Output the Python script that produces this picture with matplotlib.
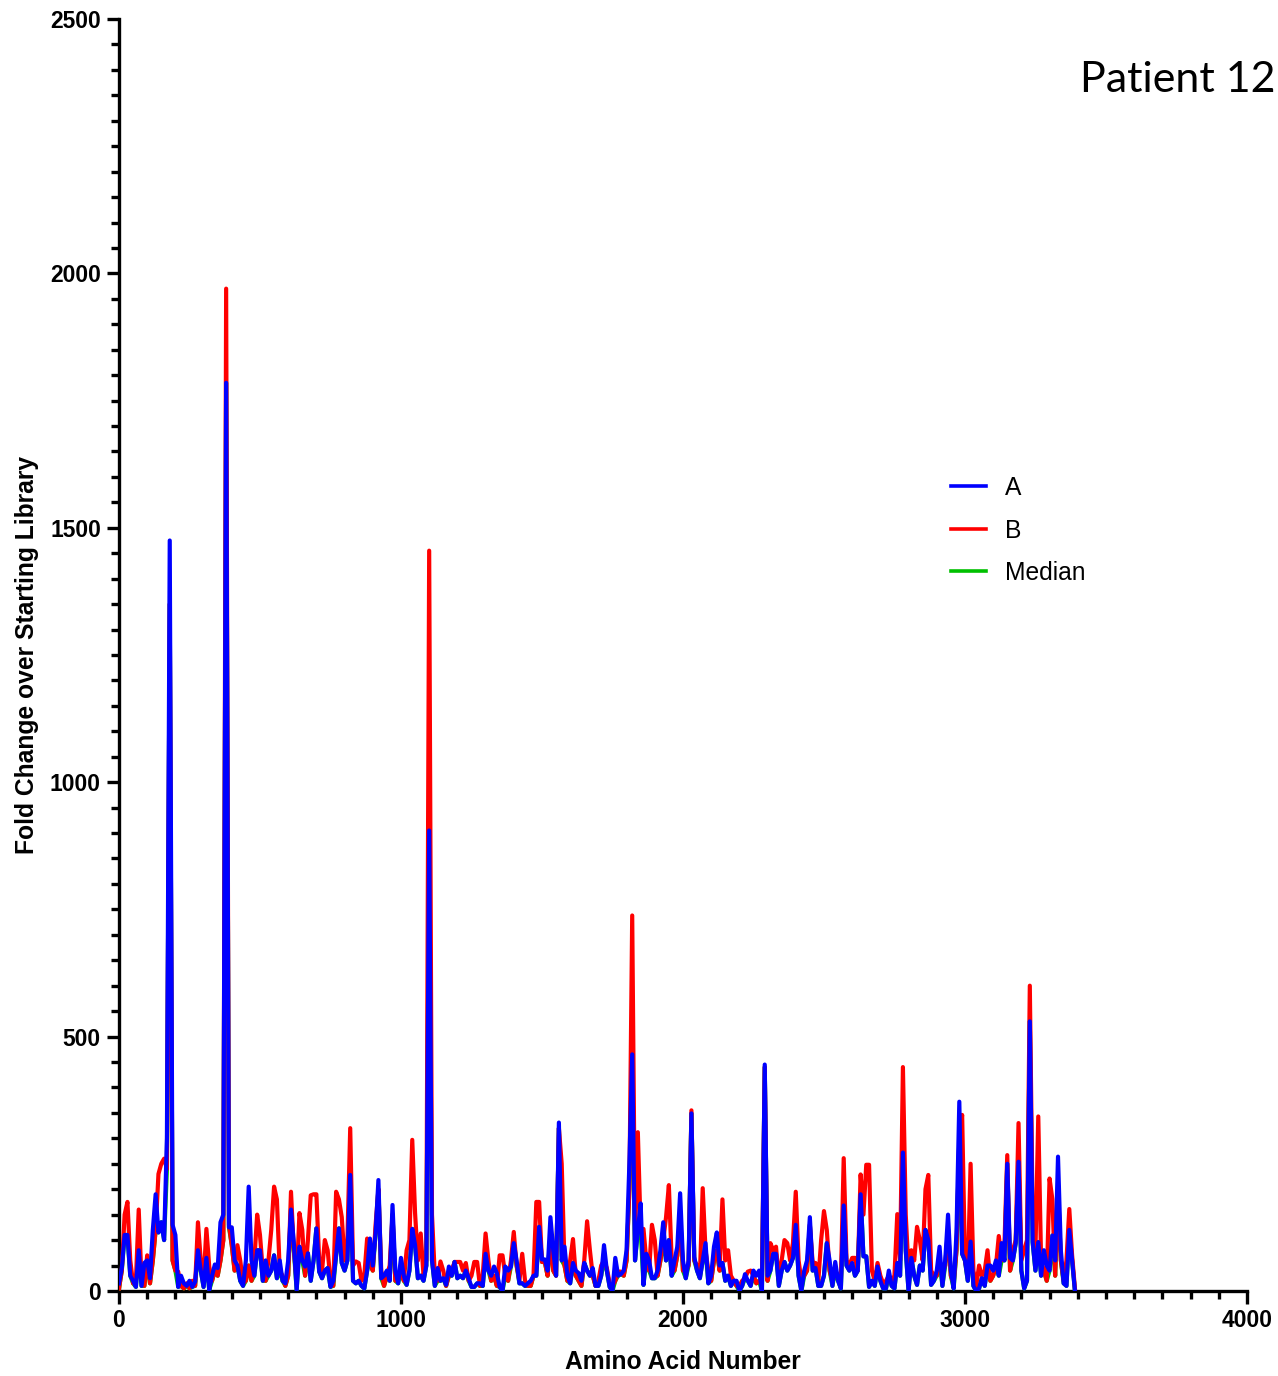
import numpy as np
import matplotlib
matplotlib.use("Agg")
import matplotlib.pyplot as plt
from matplotlib.ticker import MultipleLocator

plt.rcParams['font.family'] = ['Liberation Sans', 'DejaVu Sans']

# amino acid positions, one value every 10 residues
positions = np.arange(0, 3400, 10)

rep_a = [
    15, 45, 110, 110, 30, 20, 8, 80, 10, 55,
    60, 25, 120, 190, 115, 135, 100, 300, 1475, 130,
    110, 8, 30, 15, 10, 20, 8, 18, 80, 40,
    8, 65, 2, 30, 52, 45, 135, 150, 1785, 125,
    125, 60, 50, 20, 10, 60, 205, 60, 30, 80,
    80, 20, 60, 30, 40, 70, 25, 60, 20, 15,
    60, 160, 94, 2, 87, 60, 48, 74, 20, 60,
    123, 38, 25, 40, 45, 8, 20, 70, 123, 55,
    40, 60, 228, 20, 15, 20, 10, 5, 40, 103,
    50, 113, 218, 25, 30, 40, 20, 169, 40, 15,
    65, 30, 12, 40, 122, 90, 25, 30, 20, 50,
    905, 60, 10, 45, 20, 25, 12, 48, 30, 57,
    25, 30, 25, 40, 25, 8, 8, 15, 15, 10,
    73, 40, 30, 48, 35, 8, 0, 48, 40, 48,
    94, 60, 15, 15, 10, 15, 20, 30, 30, 126,
    62, 62, 40, 145, 80, 30, 331, 60, 87, 30,
    15, 55, 40, 35, 20, 55, 40, 30, 45, 10,
    10, 30, 90, 40, 8, 0, 65, 30, 33, 40,
    80, 251, 465, 60, 120, 172, 12, 73, 60, 25,
    25, 40, 80, 135, 60, 100, 30, 60, 87, 192,
    60, 25, 60, 349, 67, 40, 25, 60, 94, 15,
    30, 87, 115, 50, 55, 20, 30, 10, 20, 20,
    0, 10, 33, 20, 10, 40, 30, 40, 0, 445,
    30, 40, 73, 73, 10, 40, 57, 40, 50, 65,
    130, 30, 0, 40, 60, 145, 40, 45, 10, 10,
    30, 94, 60, 10, 57, 20, 5, 168, 50, 40,
    55, 30, 40, 190, 68, 68, 8, 20, 10, 48,
    20, 5, 5, 40, 10, 5, 55, 30, 272, 80,
    0, 65, 30, 12, 50, 40, 120, 100, 12, 20,
    40, 87, 10, 60, 150, 40, 5, 115, 372, 73,
    60, 20, 97, 10, 0, 5, 25, 10, 50, 50,
    40, 60, 30, 94, 60, 250, 65, 60, 94, 254,
    40, 5, 20, 530, 96, 40, 96, 30, 80, 50,
    40, 109, 60, 264, 80, 15, 10, 120, 60, 0,
]

rep_b = [
    5, 40, 150, 175, 60, 15, 20, 160, 20, 10,
    70, 15, 60, 120, 230, 250, 260, 240, 1350, 60,
    40, 38, 10, 5, 15, 5, 20, 10, 135, 60,
    20, 122, 48, 20, 40, 30, 60, 100, 1970, 130,
    90, 40, 90, 60, 15, 20, 50, 20, 60, 150,
    110, 40, 20, 60, 120, 205, 180, 40, 30, 10,
    30, 195, 80, 20, 153, 120, 30, 100, 188, 190,
    190, 60, 40, 100, 80, 20, 10, 195, 180, 145,
    60, 100, 320, 50, 58, 55, 20, 30, 103, 60,
    40, 130, 200, 40, 10, 30, 50, 150, 20, 25,
    40, 20, 80, 100, 297, 153, 60, 113, 30, 60,
    1455, 150, 30, 20, 58, 40, 10, 30, 40, 57,
    57, 57, 40, 55, 20, 30, 57, 57, 10, 30,
    113, 60, 20, 30, 10, 70, 70, 30, 20, 60,
    116, 50, 20, 73, 20, 10, 10, 30, 175, 175,
    57, 57, 30, 110, 40, 30, 320, 250, 50, 20,
    60, 102, 30, 20, 10, 60, 137, 80, 30, 10,
    20, 50, 60, 45, 15, 10, 20, 38, 38, 30,
    60, 200, 738, 100, 312, 120, 122, 60, 40, 130,
    100, 30, 60, 100, 145, 208, 60, 40, 70, 150,
    40, 40, 50, 355, 60, 50, 30, 202, 80, 40,
    20, 60, 80, 40, 180, 60, 80, 30, 20, 10,
    10, 20, 25, 38, 40, 30, 15, 20, 20, 440,
    20, 94, 80, 87, 20, 60, 100, 94, 60, 94,
    195, 60, 20, 30, 40, 130, 55, 55, 20, 100,
    157, 120, 40, 20, 40, 30, 20, 261, 60, 50,
    65, 65, 40, 229, 150, 248, 248, 40, 20, 55,
    30, 15, 20, 30, 20, 30, 151, 60, 440, 150,
    40, 80, 60, 126, 100, 60, 200, 228, 40, 30,
    30, 60, 40, 50, 120, 30, 15, 80, 300, 346,
    60, 30, 250, 40, 10, 50, 30, 40, 80, 20,
    30, 50, 108, 60, 90, 267, 40, 80, 100, 330,
    60, 80, 100, 600, 150, 80, 343, 60, 40, 20,
    221, 180, 30, 200, 60, 20, 60, 161, 70, 5,
]

median = [
    5, 40, 110, 110, 30, 15, 8, 80, 10, 10,
    60, 15, 60, 120, 115, 135, 100, 240, 1350, 60,
    40, 8, 10, 5, 10, 5, 8, 10, 80, 40,
    8, 65, 2, 20, 40, 30, 60, 100, 1785, 125,
    90, 40, 50, 20, 10, 20, 50, 20, 30, 80,
    80, 20, 20, 30, 40, 70, 25, 40, 20, 10,
    30, 160, 80, 2, 87, 60, 30, 74, 20, 60,
    123, 38, 25, 40, 45, 8, 10, 70, 123, 55,
    40, 60, 228, 20, 15, 20, 10, 5, 40, 60,
    40, 113, 200, 25, 10, 30, 20, 150, 20, 15,
    40, 20, 12, 40, 122, 90, 25, 30, 20, 50,
    905, 60, 10, 20, 20, 25, 10, 30, 30, 57,
    25, 30, 25, 40, 20, 8, 8, 15, 10, 10,
    73, 40, 20, 30, 10, 8, 0, 30, 20, 48,
    94, 50, 15, 15, 10, 10, 10, 30, 30, 126,
    57, 57, 30, 110, 40, 30, 320, 60, 50, 20,
    15, 55, 30, 20, 10, 55, 40, 30, 30, 10,
    10, 30, 60, 40, 8, 0, 20, 30, 33, 30,
    60, 200, 465, 60, 120, 120, 12, 60, 40, 25,
    25, 30, 60, 100, 60, 100, 30, 40, 70, 150,
    40, 25, 50, 349, 60, 40, 25, 60, 80, 15,
    20, 60, 80, 40, 55, 20, 30, 10, 20, 10,
    0, 10, 25, 20, 10, 30, 15, 20, 0, 440,
    20, 40, 73, 73, 10, 40, 57, 40, 50, 65,
    130, 30, 0, 30, 40, 130, 40, 45, 10, 10,
    30, 94, 40, 10, 40, 20, 5, 168, 50, 40,
    55, 30, 40, 190, 68, 68, 8, 20, 10, 48,
    20, 5, 5, 30, 10, 5, 55, 30, 272, 80,
    0, 65, 30, 12, 50, 40, 120, 100, 12, 20,
    30, 60, 10, 50, 120, 30, 5, 80, 300, 73,
    60, 20, 97, 10, 0, 5, 25, 10, 50, 20,
    30, 50, 30, 60, 60, 250, 40, 60, 94, 254,
    40, 5, 20, 530, 96, 40, 96, 30, 40, 20,
    40, 109, 30, 200, 60, 15, 10, 120, 60, 0,
]

fig = plt.figure(figsize=(12.78, 13.76), dpi=100)
ax = fig.add_axes([0.0931, 0.0618, 0.8826, 0.9244])

lw = 3.0
l_med, = ax.plot(positions, median, color='#00c000', lw=lw, label='Median', zorder=2)
l_b, = ax.plot(positions, rep_b, color='#ff0000', lw=lw, label='B', zorder=3)
l_a, = ax.plot(positions, rep_a, color='#0000ff', lw=lw, label='A', zorder=4)

ax.set_xlim(0, 4000)
ax.set_ylim(0, 2500)
ax.xaxis.set_major_locator(MultipleLocator(1000))
ax.xaxis.set_minor_locator(MultipleLocator(100))
ax.yaxis.set_major_locator(MultipleLocator(500))
ax.yaxis.set_minor_locator(MultipleLocator(50))

for s in ['top', 'right']:
    ax.spines[s].set_visible(False)
for s in ['left', 'bottom']:
    ax.spines[s].set_linewidth(2.4)
    ax.spines[s].set_zorder(1)

ax.tick_params(which='major', length=9, width=2.4, labelsize=16.5, pad=4)
ax.tick_params(which='minor', length=5.5, width=2.4)
for lab in ax.get_xticklabels() + ax.get_yticklabels():
    lab.set_fontweight('bold')

ax.set_xlabel('Amino Acid Number', fontsize=17.7, fontweight='bold', labelpad=13)
ax.set_ylabel('Fold Change over Starting Library', fontsize=17.7, fontweight='bold', labelpad=8)

fig.text(0.998, 0.9415, 'Patient 12', ha='right', va='center', fontsize=31,
         family=['Lato', 'DejaVu Sans'])

leg = fig.legend(handles=[l_a, l_b, l_med], loc='upper left', bbox_to_anchor=(0.744, 0.654),
                 frameon=False, fontsize=17.7, handlelength=1.45, handletextpad=0.75,
                 labelspacing=0.75, borderpad=0, borderaxespad=0)
for h in leg.get_lines():
    h.set_linewidth(2.6)

fig.savefig('out.png', dpi=100)
